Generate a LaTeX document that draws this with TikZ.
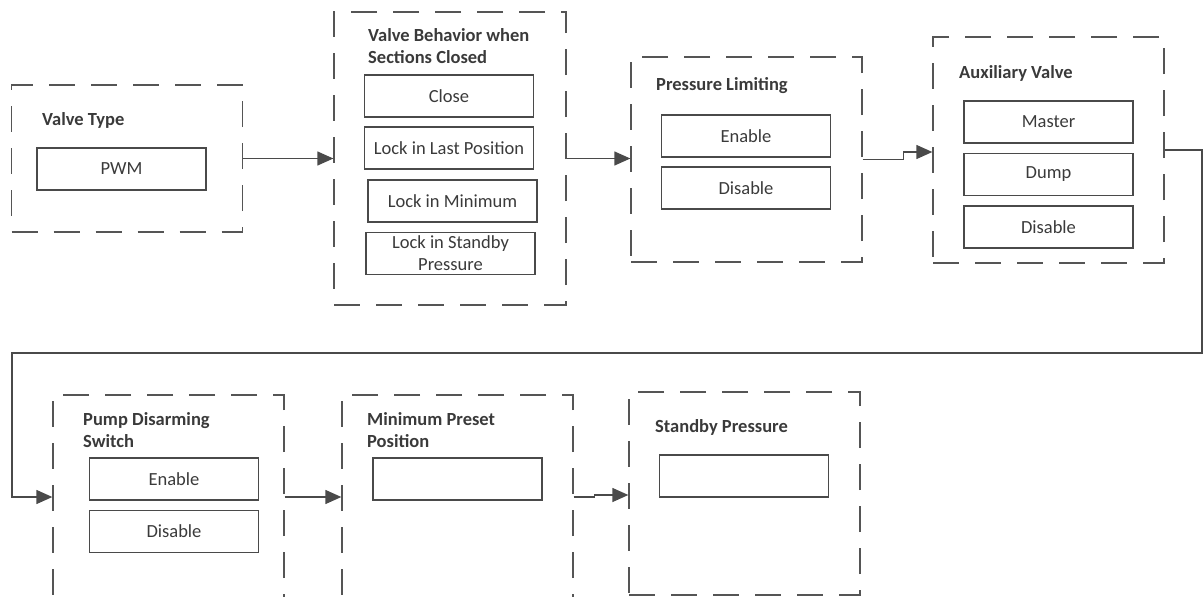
\documentclass[tikz,border=0pt]{standalone}
\usepackage{fontspec}
\setmainfont{Carlito}
\usetikzlibrary{arrows.meta}
\definecolor{ink}{HTML}{4A4A4A}
\definecolor{dashgray}{HTML}{555555}
\definecolor{textgray}{HTML}{3A3A3A}

\begin{document}
\begin{tikzpicture}[
  x=1pt,y=-1pt,
  font=\fontsize{18.5}{22}\selectfont,
  group/.style={draw=dashgray,line width=1.3pt,dash pattern=on 26pt off 16pt,minimum width=231pt,inner sep=0pt},
  opt/.style={draw=ink,line width=1.4pt,minimum width=169pt,minimum height=42pt,inner sep=2pt,align=center,text=textgray},
  title/.style={anchor=west,align=left,font=\fontsize{18.5}{22}\selectfont\bfseries,text=textgray,inner sep=0pt},
  arr/.style={-{Triangle[length=16pt,width=14pt]},line width=1.3pt,draw=ink}
]
\clip (0,0) rectangle (1203,597);

% Upper row of settings
\node[group,minimum height=147pt] (g1) at (127,158.5) {};
\node[title] (t1) at (42,120) {Valve Type};
\node[opt] (pwm) at (121.5,169) {PWM};

\node[group,minimum width=232pt,minimum height=293pt] (g2) at (450,158.5) {};
\node[title] (t2) at (368,46) {Valve Behavior when\\Sections Closed};
\node[opt] (close) at (449,96) {Close};
\node[opt] (lastpos) at (449,148) {Lock in Last Position};
\node[opt] (minimum) at (452.5,201) {Lock in Minimum};
\node[opt] (standby) at (450.5,253.5) {Lock in Standby\\Pressure};

\node[group,minimum height=205pt] (g3) at (746.5,159.5) {};
\node[title] (t3) at (656,86) {Pressure Limiting};
\node[opt] (plon) at (746,136) {Enable};
\node[opt] (ploff) at (746,188) {Disable};

\node[group,minimum height=226pt] (g4) at (1048.5,150) {};
\node[title] (t4) at (959,73) {Auxiliary Valve};
\node[opt] (master) at (1048.5,122) {Master};
\node[opt] (dump) at (1048.5,174.5) {Dump};
\node[opt] (auxoff) at (1048.5,227) {Disable};

% Lower row of settings
\node[group,minimum height=204pt] (g5) at (168.5,497) {};
\node[title] (t5) at (83,430) {Pump Disarming\\Switch};
\node[opt] (pdon) at (174,479) {Enable};
\node[opt] (pdoff) at (174,531.5) {Disable};

\node[group,minimum height=204pt] (g6) at (457.5,497) {};
\node[title] (t6) at (367,430) {Minimum Preset\\Position};
\node[opt] (preset) at (457.5,479) {};

\node[group,minimum height=203pt] (g7) at (744.5,493.5) {};
\node[title] (t7) at (655,427) {Standby Pressure};
\node[opt] (sbp) at (744,476) {};

% Connectors
\coordinate (wrapR) at (1202,353);
\coordinate (wrapL) at (12,353);
\draw[arr] (g1.east) -- (g1.east -| g2.west);
\draw[arr] (g2.east) -- (g2.east -| g3.west);
\draw[arr] (g3.east) -- ++(41,0) |- ([yshift=-2pt]g4.west);
\draw[arr] (g4.east) -| (wrapR) -- (wrapL) |- (g5.west);
\draw[arr] (g5.east) -- (g6.west);
\draw[arr] (g6.east) -- ++(21,0) |- ([yshift=-1.5pt]g7.west);
\end{tikzpicture}
\end{document}
